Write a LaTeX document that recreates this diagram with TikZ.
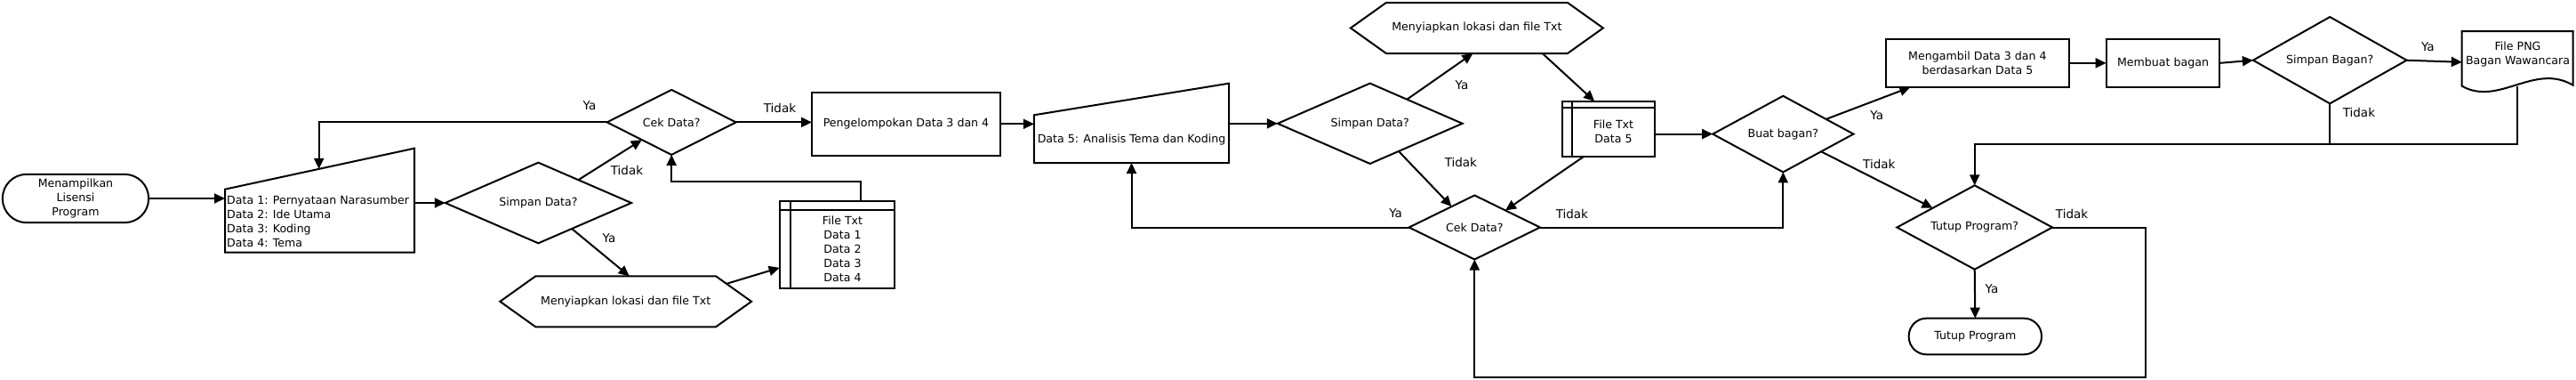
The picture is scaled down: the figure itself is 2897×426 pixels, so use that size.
\documentclass[tikz,border=0pt]{standalone}
\usepackage{fontspec}
\setmainfont{DejaVu Sans}
\usetikzlibrary{shapes.geometric,arrows.meta,calc}
\tikzset{
  every node/.style={font=\fontsize{12.6}{16}\selectfont},
  ln/.style={line width=2pt},
  arr/.style={ln, -{Triangle[length=12pt,width=11pt]}},
  dia/.style={diamond, aspect=3, draw, ln, inner sep=0pt, outer sep=0pt, align=center},
  box/.style={rectangle, draw, ln, inner sep=0pt, outer sep=0pt, align=center},
  ghost/.style={rectangle, inner sep=0pt, outer sep=0pt, align=center},
  term/.style={rectangle, draw, ln, rounded corners=#1, inner sep=0pt, outer sep=0pt, align=center},
  lbl/.style={font=\fontsize{13.5}{16}\selectfont, inner sep=0pt},
}
\begin{document}
\begin{tikzpicture}[x=1pt,y=-1pt]
\useasboundingbox (0,0) rectangle (2897,426);

% ---- nodes ----
\node[term=27pt, minimum width=164.3pt, minimum height=54.3pt] (start) at (85,223) {Menampilkan\\Lisensi\\Program};

\node[ghost, minimum width=213pt, minimum height=117pt] (mi1) at (359.5,225.2) {};
\coordinate (mi1tl) at ([yshift=-46pt]mi1.north west);
\draw[ln] (mi1.south west) -- (mi1.south east) -- (mi1.north east) -- (mi1tl) -- cycle;
\node[anchor=west, align=left, inner sep=0pt] (mi1t) at (255,249) {Data 1: Pernyataan Narasumber\\Data 2: Ide Utama\\Data 3: Koding\\Data 4: Tema};

\node[dia, minimum width=209.3pt, minimum height=90.6pt] (sd1) at (605.4,228) {Simpan Data?};
\node[dia, minimum width=145pt, minimum height=73pt] (cd1) at (755.2,137.4) {Cek Data?};

\node[ghost, minimum width=282.7pt, minimum height=57pt] (hx1) at (703.7,338.8) {Menyiapkan lokasi dan file Txt};
\coordinate (hx1ne) at ([xshift=-40pt]hx1.north east);
\draw[ln] ([xshift=40pt]hx1.north west) -- (hx1ne) -- (hx1.east) -- ([xshift=-40pt]hx1.south east) -- ([xshift=40pt]hx1.south west) -- (hx1.west) -- cycle;

\node[box, minimum width=129pt, minimum height=98.3pt] (ft1) at (941.2,274.85) {};
\draw[ln] ([xshift=12.6pt]ft1.north west) -- ([xshift=12.6pt]ft1.south west);
\draw[ln] ([yshift=-10pt]ft1.north west) -- ([yshift=-10pt]ft1.north east);
\node[align=center, inner sep=0pt] (ft1t) at (947.5,279.5) {File Txt\\Data 1\\Data 2\\Data 3\\Data 4};

\node[box, minimum width=212pt, minimum height=71.3pt] (pk) at (1019,139.3) {Pengelompokan Data 3 dan 4};

\node[ghost, minimum width=219.2pt, minimum height=89.3pt] (mi2) at (1272.5,138.35) {};
\coordinate (mi2tl) at ([yshift=-35.6pt]mi2.north west);
\draw[ln] (mi2.south west) -- (mi2.south east) -- (mi2.north east) -- (mi2tl) -- cycle;
\node[inner sep=0pt] (mi2t) at (1272.5,157) {Data 5: Analisis Tema dan Koding};

\node[dia, minimum width=207.8pt, minimum height=90.3pt] (sd2) at (1540.7,138.8) {Simpan Data?};

\node[ghost, minimum width=284pt, minimum height=57pt] (hx2) at (1660.9,31.5) {Menyiapkan lokasi dan file Txt};
\draw[ln] ([xshift=40pt]hx2.north west) -- ([xshift=-40pt]hx2.north east) -- (hx2.east) -- ([xshift=-40pt]hx2.south east) -- ([xshift=40pt]hx2.south west) -- (hx2.west) -- cycle;

\node[box, minimum width=104pt, minimum height=62pt] (ft2) at (1809.1,144.7) {};
\draw[ln] ([xshift=10.8pt]ft2.north west) -- ([xshift=10.8pt]ft2.south west);
\draw[ln] ([yshift=-7pt]ft2.north west) -- ([yshift=-7pt]ft2.north east);
\node[align=center, inner sep=0pt] (ft2t) at (1814.5,147.5) {File Txt\\Data 5};

\node[dia, minimum width=147.4pt, minimum height=72pt] (cd2) at (1658.3,255.5) {Cek Data?};
\node[dia, minimum width=158.3pt, minimum height=85.6pt] (bb) at (2005.3,150.6) {Buat bagan?};

\node[box, minimum width=206.4pt, minimum height=54.3pt] (mg) at (2223.9,70.85) {Mengambil Data 3 dan 4\\berdasarkan Data 5};
\node[box, minimum width=127.8pt, minimum height=54.3pt] (mb) at (2432.5,70.85) {Membuat bagan};
\node[dia, minimum width=172.7pt, minimum height=97.3pt] (sb) at (2620.2,67.7) {Simpan Bagan?};

\node[ghost, minimum width=124.9pt, minimum height=61.7pt] (png) at (2831.2,65.85) {};
\draw[ln] (2768.7,96.7) -- (2768.7,35) -- (2893.6,35) -- (2893.6,95.7) .. controls (2850,70) and (2810,120) .. (2768.7,96.7) -- cycle;
\node[align=center, inner sep=0pt] (pngt) at (2831.5,60.9) {File PNG\\Bagan Wawancara};

\node[dia, minimum width=174.7pt, minimum height=94.4pt] (tp) at (2220.7,255.5) {Tutup Program?};
\node[term=20pt, minimum width=149.3pt, minimum height=40.7pt] (te) at (2221.3,378) {Tutup Program};

% ---- connectors ----
\draw[arr] (start.east) -- (start.east -| mi1.west);
\draw[arr] (sd1.west -| mi1.east) -- (sd1.west);
\draw[arr] ($(sd1.north)!0.43!(sd1.east)$) -- ($(cd1.south)!0.46!(cd1.west)$);
\draw[arr] ($(sd1.south)!0.36!(sd1.east)$) -- ([xshift=4pt]hx1.north);
\draw[arr] ($(hx1ne)!0.3!(hx1.east)$) -- ([yshift=-26pt]ft1.west);
\draw[arr] ([xshift=27pt]ft1.north) -- ++(0,-21.7) -| (cd1.south);
\draw[arr] (cd1.west) -| ($(mi1tl)!0.496!(mi1.north east)$);
\draw[arr] (cd1.east) -- (cd1.east -| pk.west);
\draw[arr] (pk.east) -- (pk.east -| mi2.west);
\draw[arr] (sd2.west -| mi2.east) -- (sd2.west);
\draw[arr] ($(sd2.north)!0.4!(sd2.east)$) -- ([xshift=-4.5pt]hx2.south);
\draw[arr] ([xshift=73.7pt]hx2.south) -- ([xshift=-16pt]ft2.north);
\draw[arr] ($(sd2.south)!0.31!(sd2.east)$) -- ($(cd2.north)!0.35!(cd2.west)$);
\draw[arr] ([xshift=-27.7pt]ft2.south) -- ($(cd2.north)!0.47!(cd2.east)$);
\draw[arr] (bb.west -| ft2.east) -- (bb.west);
\draw[arr] (cd2.west) -| (mi2.south);
\draw[arr] (cd2.east) -| (bb.south);
\draw[arr] ($(bb.north)!0.61!(bb.east)$) -- ([xshift=27.6pt]mg.south west);
\draw[arr] ($(bb.south)!0.54!(bb.east)$) -- ($(tp.north)!0.54!(tp.west)$);
\draw[arr] (mg.east) -- (mg.east -| mb.west);
\draw[arr] (mb.east) -- (sb.west);
\draw[arr] (sb.east) -- ([yshift=-4pt]png.west);
\draw[arr] (png.south) -- ++(0,65.3) -| (tp.north);
\draw[ln] (sb.south) -- ++(0,45.7);
\draw[arr] (tp.south) -- (te.north);
\coordinate (c1) at (2412.7,423.5);
\draw[arr] (tp.east) -| (c1) -| (cd2.south);

% ---- labels ----
\node[lbl] at (663,119) {Ya};
\node[lbl] at (705,191) {Tidak};
\node[lbl] at (685,268) {Ya};
\node[lbl] at (877,121) {Tidak};
\node[lbl] at (1644,95.7) {Ya};
\node[lbl] at (1642.9,182.3) {Tidak};
\node[lbl] at (1569.6,239.3) {Ya};
\node[lbl] at (1767.9,240.7) {Tidak};
\node[lbl] at (2110.7,129.3) {Ya};
\node[lbl] at (2113.3,184) {Tidak};
\node[lbl] at (2730.3,52.7) {Ya};
\node[lbl] at (2652.9,126.7) {Tidak};
\node[lbl] at (2330,240) {Tidak};
\node[lbl] at (2240,324.3) {Ya};
\end{tikzpicture}
\end{document}
